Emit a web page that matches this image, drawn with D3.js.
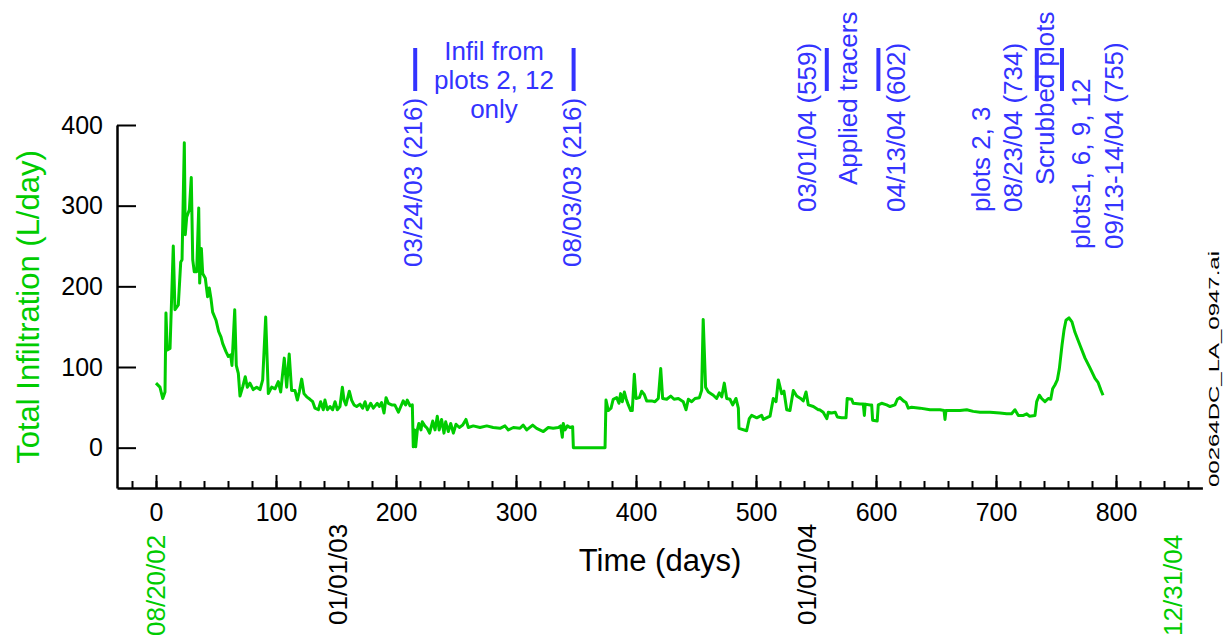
<!DOCTYPE html>
<html lang="en">
<head>
<meta charset="UTF-8">
<title>Total Infiltration</title>
<script src="https://d3js.org/d3.v7.min.js"></script>
<style>
  body { margin: 0; background: #fff; }
  svg { display: block; font-family: "Liberation Sans", Arial, sans-serif; }
  .axis path, .axis line { stroke: #000; }
  .axis text { fill: #000; font-size: 25px; font-family: "Liberation Sans", Arial, sans-serif; }
  .note { fill: #3333ff; font-size: 26px; }
</style>
</head>
<body>
<svg id="chart" width="1231" height="641"></svg>
<script>
// time (days since 08/20/02) and total infiltration (L/day)
const days = [0, 3.3, 5.6, 7.5, 8.3, 9.4, 11.7, 14.4, 15.8, 18.6, 20.6, 21.7, 23.6, 24.4, 25.6, 27.8, 29.4,
  30.6, 31.9, 33.9, 35.6, 36.4, 37.8, 38.9, 41.1, 43, 44.4, 45.8, 47.2, 50, 52.2, 54.2, 55.6, 58.3, 60.3,
  62.2, 63.3, 65.6, 66.9, 68.6, 70, 72.2, 74.4, 76.1, 78.3, 81, 83.9, 86.7, 88.9, 91.4, 93.6, 96.4, 99.2,
  101.9, 103.9, 106.9, 108.9, 111, 113, 115.8, 117.8, 119.4, 121.4, 123.3, 125.6, 128.3, 130.6, 132.5,
  135.3, 137.2, 139.4, 140.8, 142.8, 145, 147.2, 149.2, 151.1, 153.3, 155.3, 156.7, 158.3, 161.1, 163,
  165, 167.2, 170, 172.2, 174.2, 176.1, 178.9, 181.1, 184.4, 186.1, 188, 190, 191.7, 193.6, 196.4, 199,
  202, 204, 206, 208, 209.4, 211.7, 213.6, 214.4, 215.6, 216.4, 217.8, 219, 220.8, 221.9, 224, 226, 228,
  230.6, 232.5, 234.4, 236, 238, 240, 241.4, 243.6, 245.6, 247.8, 250, 252.8, 255.6, 258.3, 260.3, 264.4,
  270, 275.6, 281, 286.7, 290.8, 293.6, 297.8, 303.3, 306, 308.9, 313.9, 317.2, 322.8, 326.9, 331, 335.3,
  337.2, 338.6, 339.4, 340.8, 342.8, 345, 347.2, 347.8, 374.2, 375, 376.9, 379.2, 381, 383.9, 385.8,
  387.2, 388.6, 390.3, 391.7, 393.6, 395.6, 396.9, 398.6, 400, 402.8, 404.7, 406.9, 408.9, 413, 415.8,
  418.6, 420.6, 422.2, 425.6, 428.9, 431.7, 435.3, 439.4, 441.7, 443.6, 446.4, 449.2, 452.8, 454.7, 456,
  458, 460.3, 464.4, 467.2, 469.4, 471.4, 473.6, 475.6, 478.3, 480.6, 483.3, 485.3, 485.8, 492.2, 494.4,
  496.4, 500.6, 504.7, 506.1, 511.7, 514.4, 516.7, 518.6, 521.4, 523.3, 525.6, 528.3, 531.1, 533.9,
  537.2, 539.4, 541.7, 543.6, 547.8, 551.9, 553, 556, 559, 560.3, 563, 566, 567.8, 571.4, 575, 576,
  579.7, 581, 586.7, 589.4, 590.3, 591, 595, 596.4, 597.2, 601, 601.9, 604.7, 608.9, 611.7, 615.8, 617.8,
  620, 622.8, 625, 626.9, 629.7, 636.7, 645, 653.3, 656.7, 657.5, 658.3, 664.4, 670, 675.6, 681, 686.7,
  695, 703.3, 708.9, 713, 715.8, 718.6, 722.8, 725.6, 727.8, 732.5, 733.9, 736.1, 738, 740.8, 743.6,
  745.6, 747.2, 749.2, 751.1, 752.8, 755, 756.7, 758.3, 760.8, 763.3, 765.8, 770, 774.2, 778.3, 782.5,
  785, 787.5, 789.2];
const infil = [80, 75, 61, 69, 167, 121, 123, 250, 171, 177, 230, 233, 378, 264, 286, 295, 335,
  233, 218, 218, 297, 204, 247, 216, 210, 187, 198, 185, 168, 158, 144, 137, 129, 119, 113,
  115, 102, 171, 102, 92, 64, 75, 88, 75, 80, 72, 75, 72, 84, 162, 67, 75, 73,
  82, 69, 111, 75, 116, 71, 71, 59, 69, 85, 67, 63, 60, 57, 49,
  47, 57, 47, 59, 47, 51, 47, 57, 47, 51, 75, 59, 53, 70, 59,
  53, 51, 54, 49, 57, 47, 55, 49, 55, 51, 56, 43, 62, 55, 53, 53,
  44, 51, 58, 53, 59, 52, 53, 1, 22, 1, 22, 30, 22, 32, 27, 24, 18,
  33, 22, 39, 22, 35, 18, 32, 20, 30, 18, 29, 25, 28, 35, 25, 27,
  25, 27, 25, 24, 27, 22, 25, 24, 28, 22, 28, 24, 20, 25, 24, 25,
  27, 13, 30, 22, 27, 25, 26, 0, 0, 59, 46, 49, 60, 62, 55,
  67, 57, 69, 61, 53, 46, 46, 91, 61, 62, 70, 66, 58, 58, 57,
  61, 98, 61, 60, 64, 60, 61, 57, 47, 60, 57, 61, 62, 71, 159,
  75, 69, 65, 61, 68, 63, 80, 61, 60, 53, 61, 49, 24, 21, 36,
  40, 37, 40, 35, 39, 61, 57, 84, 67, 70, 47, 46, 71, 64,
  61, 58, 69, 53, 51, 47, 47, 44, 36, 44, 43, 44, 38, 37, 37, 61,
  60, 55, 54, 54, 40, 54, 53, 53, 34, 33, 53, 55, 53, 51, 53, 60,
  62, 58, 56, 49, 50, 49, 47, 47, 46, 35, 46, 46, 46, 47, 45, 44,
  44, 43, 42, 42, 47, 40, 40, 42, 39, 40, 57, 65, 61, 57, 61,
  60, 73, 78, 84, 98, 127, 146, 158, 161, 156, 143, 127, 111, 99, 86,
  81, 71, 65];

const xMajor = [0, 100, 200, 300, 400, 500, 600, 700, 800];
const xMinor = d3.range(-20, 861, 20);
const yTicks = [0, 100, 200, 300, 400];

// calendar labels under the axis (position in days, as drawn)
const dateLabels = ["08/20/02", "01/01/03", "01/01/04", "12/31/04"];
const dateDays = [0, 151, 542, 847];
const dateColors = ["#00cc00", "#000", "#000", "#00cc00"];

// events marked by short bars above the plot
const eventDays = [216, 348, 559, 602, 734, 755];

// rotated blue notes: text, centre x (px), bottom y (px)
const notes = [
  ["03/24/03 (216)", 413, 267],
  ["08/03/03 (216)", 572, 267],
  ["03/01/04 (559)", 807, 212],
  ["Applied tracers", 848, 185],
  ["04/13/04 (602)", 896, 212],
  ["plots 2, 3", 981, 212],
  ["08/23/04 (734)", 1013, 212],
  ["Scrubbed plots", 1045, 185],
  ["plots1, 6, 9, 12", 1081, 249],
  ["09/13-14/04 (755)", 1114, 249]
];
const infilNote = ["Infil from", "plots 2, 12", "only"];

const svg = d3.select("#chart");

const x = d3.scaleLinear().domain([-32.5, 872]).range([117, 1202.4]);
const y = d3.scaleLinear().domain([-50, 400]).range([488, 125]);

// minor ticks
svg.append("g")
  .attr("class", "axis")
  .attr("transform", "translate(0,488)")
  .call(d3.axisBottom(x).tickValues(xMinor).tickSize(-7).tickSizeOuter(0).tickFormat(""))
  .call(g => g.select(".domain").remove())
  .selectAll("line").attr("stroke-width", 2);

// major x axis
svg.append("g")
  .attr("class", "axis")
  .attr("transform", "translate(0,488)")
  .call(d3.axisBottom(x).tickValues(xMajor).tickSize(-13).tickSizeOuter(0).tickPadding(15))
  .call(g => g.select(".domain").attr("stroke-width", 2.5))
  .call(g => g.selectAll("line").attr("stroke-width", 2));

// y axis
svg.append("g")
  .attr("class", "axis")
  .attr("transform", "translate(117,0)")
  .call(d3.axisLeft(y).tickValues(yTicks).tickSize(-19).tickSizeOuter(0).tickPadding(14))
  .call(g => g.select(".domain").attr("stroke-width", 2.5))
  .call(g => g.selectAll("line").attr("stroke-width", 2));

// data line
const line = d3.line()
  .x((d, i) => x(days[i]))
  .y(d => y(d));

svg.append("path")
  .datum(infil)
  .attr("fill", "none")
  .attr("stroke", "#00cc00")
  .attr("stroke-width", 3)
  .attr("stroke-linejoin", "round")
  .attr("d", line);

// axis titles
svg.append("text")
  .attr("transform", "translate(28,307) rotate(-90)")
  .attr("text-anchor", "middle")
  .attr("dy", "0.36em")
  .attr("font-size", 31)
  .attr("fill", "#00cc00")
  .text("Total Infiltration (L/day)");

svg.append("text")
  .attr("x", 660)
  .attr("y", 571)
  .attr("text-anchor", "middle")
  .attr("font-size", 31)
  .attr("fill", "#000")
  .text("Time (days)");

// calendar dates
svg.selectAll(".date")
  .data(dateLabels)
  .join("text")
  .attr("class", "date")
  .attr("transform", (d, i) => `translate(${x(dateDays[i])},${i === 0 || i === 3 ? 636 : 625}) rotate(-90)`)
  .attr("dy", "0.36em")
  .attr("font-size", 26)
  .attr("fill", (d, i) => dateColors[i])
  .text(d => d);

// event bars
svg.selectAll(".bar")
  .data(eventDays)
  .join("line")
  .attr("class", "bar")
  .attr("x1", d => x(d))
  .attr("x2", d => x(d))
  .attr("y1", 48)
  .attr("y2", 91)
  .attr("stroke", "#3333ff")
  .attr("stroke-width", 4);

// notes
svg.selectAll(".vnote")
  .data(notes)
  .join("text")
  .attr("class", "note vnote")
  .attr("transform", d => `translate(${d[1]},${d[2]}) rotate(-90)`)
  .attr("dy", "0.36em")
  .text(d => d[0]);

svg.selectAll(".hnote")
  .data(infilNote)
  .join("text")
  .attr("class", "note hnote")
  .attr("x", 494)
  .attr("y", (d, i) => 60 + i * 29)
  .attr("text-anchor", "middle")
  .text(d => d);

// file tag on the right edge
svg.append("text")
  .attr("transform", "translate(1214,487) rotate(-90)")
  .attr("dy", "0.36em")
  .attr("font-size", 14)
  .attr("textLength", 236)
  .attr("lengthAdjust", "spacingAndGlyphs")
  .attr("fill", "#000")
  .text("00264DC_LA_0947.ai");
</script>
</body>
</html>
